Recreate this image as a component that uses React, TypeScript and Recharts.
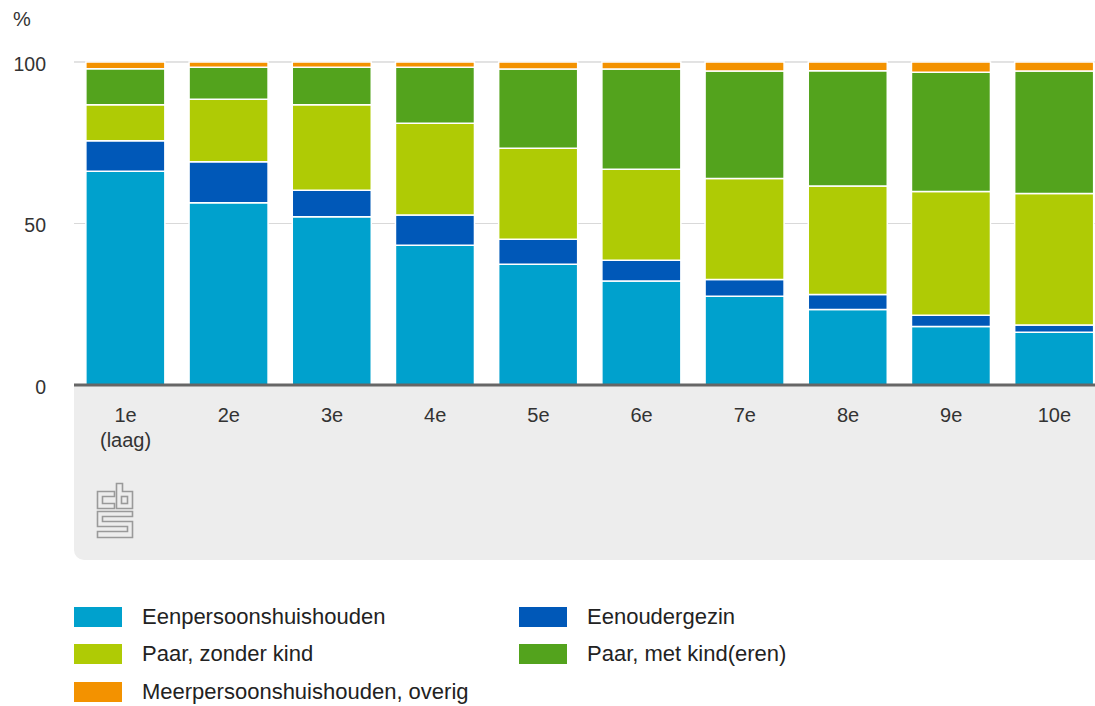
import { Bar, BarChart, CartesianGrid, XAxis, YAxis } from 'recharts';

// Huishoudenssamenstelling per inkomensdeciel (aandeel in %).
// Waarden, elke kolom telt op tot 100.

const categories = ['1e\n(laag)', '2e', '3e', '4e', '5e', '6e', '7e', '8e', '9e', '10e'];

const eenpersoons = [66.2, 56.4, 52.1, 43.3, 37.4, 32.2, 27.5, 23.4, 18.1, 16.3];
const eenouder = [9.4, 12.7, 8.2, 9.3, 7.7, 6.4, 5.2, 4.6, 3.5, 2.3];
const paarZonder = [11.2, 19.4, 26.5, 28.4, 28.2, 28.2, 31.2, 33.6, 38.3, 40.7];
const paarMet = [11.1, 9.9, 11.6, 17.4, 24.5, 31.0, 33.3, 35.7, 36.9, 37.9];
const overig = [2.1, 1.6, 1.6, 1.6, 2.2, 2.2, 2.8, 2.7, 3.2, 2.8];

const yTicks = [0, 50, 100];

const SERIES = [
  { key: 'eenpersoons', name: 'Eenpersoonshuishouden', color: '#00a1cd', values: eenpersoons },
  { key: 'eenouder', name: 'Eenoudergezin', color: '#0058b8', values: eenouder },
  { key: 'paarZonder', name: 'Paar, zonder kind', color: '#afcb05', values: paarZonder },
  { key: 'paarMet', name: 'Paar, met kind(eren)', color: '#53a31d', values: paarMet },
  { key: 'overig', name: 'Meerpersoonshuishouden, overig', color: '#f39200', values: overig },
];

const data = categories.map((c, i) => {
  const row: Record<string, string | number> = { cat: c };
  SERIES.forEach((s) => (row[s.key] = s.values[i]));
  return row;
});

const FONT = '"Liberation Sans", Arial, sans-serif';
const TEXT = '#333';

function XTick({ x, y, payload }: any) {
  const lines = String(payload.value).split('\n');
  return (
    <text x={x} y={y} textAnchor="middle" fill={TEXT} fontSize={20} fontFamily={FONT}>
      {lines.map((l, i) => (
        <tspan key={i} x={x} dy={i === 0 ? 37 : 25}>
          {l}
        </tspan>
      ))}
    </text>
  );
}

function CbsLogo() {
  return (
    <svg width={38} height={58} style={{ position: 'absolute', left: 96, top: 482 }}>
      <g transform="translate(1.5,1.5)" fill="none" stroke="#9a9a9a" strokeWidth={1.6}>
        <path d="M17 8 H0 V25 H17 V20 H5 V13 H17 Z" />
        <path d="M19 0 H25 V8 H35 V25 H19 Z" />
        <rect x={24} y={13} width={6} height={7} />
        <path d="M35 28 H0 V43 H30 V48 H0 V54 H35 V38 H5 V33 H35 Z" />
      </g>
    </svg>
  );
}

export default function App() {
  return (
    <div
      style={{
        position: 'absolute',
        left: 0,
        top: 0,
        width: 1095,
        height: 706,
        overflow: 'hidden',
        background: '#fff',
        fontFamily: FONT,
      }}
    >
      {/* grijs vlak onder de x-as */}
      <div
        style={{
          position: 'absolute',
          left: 74,
          top: 386,
          width: 1040,
          height: 174,
          background: '#ededed',
          borderBottomLeftRadius: 10,
        }}
      />
      <div style={{ position: 'absolute', left: 13, top: 8, fontSize: 20, color: TEXT }}>%</div>

      <div style={{ position: 'absolute', left: 0, top: 0 }}>
        <BarChart
          width={1110}
          height={560}
          data={data}
          margin={{ top: 62, right: 4, bottom: 0, left: 0 }}
          barCategoryGap="11.5%"
        >
          <CartesianGrid stroke="#d9d9d9" vertical={false} />
          <XAxis
            dataKey="cat"
            height={175}
            interval={0}
            tickLine={false}
            tickSize={0}
            tickMargin={0}
            axisLine={{ stroke: '#666', strokeWidth: 3 }}
            tick={<XTick />}
          />
          <YAxis
            width={74}
            domain={[0, 100]}
            ticks={yTicks}
            axisLine={false}
            tickLine={false}
            tickSize={0}
            tickMargin={28}
            tick={{ fill: TEXT, fontSize: 19.5, fontFamily: FONT, dy: 2 }}
          />
          {SERIES.map((s) => (
            <Bar
              key={s.key}
              dataKey={s.key}
              name={s.name}
              stackId="a"
              fill={s.color}
              stroke="#fff"
              strokeWidth={1.5}
              isAnimationActive={false}
            />
          ))}
        </BarChart>
      </div>

      <CbsLogo />

      <div
        style={{
          position: 'absolute',
          left: 74,
          top: 598,
          display: 'grid',
          gridTemplateColumns: '445px 445px',
          gridAutoRows: '37.5px',
          alignItems: 'center',
        }}
      >
        {SERIES.map((s) => (
          <div key={s.key} style={{ display: 'flex', alignItems: 'center' }}>
            <span style={{ display: 'inline-block', width: 48, height: 20, background: s.color }} />
            <span style={{ marginLeft: 20, fontSize: 22, color: '#222', whiteSpace: 'nowrap' }}>{s.name}</span>
          </div>
        ))}
      </div>
    </div>
  );
}
